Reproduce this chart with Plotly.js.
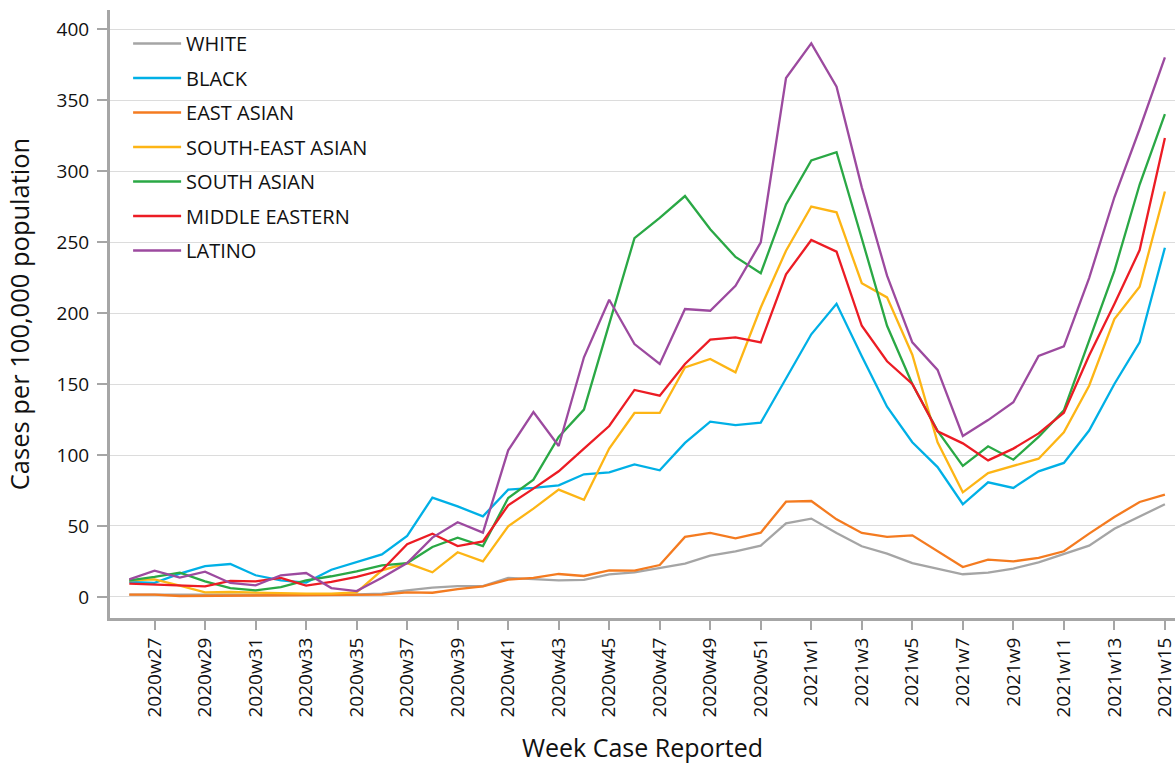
<!DOCTYPE html>
<html>
<head>
<meta charset="utf-8">
<script src="https://cdn.plot.ly/plotly-3.0.1.min.js"></script>
<style>
  html, body { margin: 0; padding: 0; background: #fff; }
  #chart { width: 1175px; height: 764px; }
</style>
</head>
<body>
<div id="chart"></div>
<script>
const weeks = [
  "2020w26","2020w27","2020w28","2020w29","2020w30","2020w31","2020w32","2020w33","2020w34","2020w35",
  "2020w36","2020w37","2020w38","2020w39","2020w40","2020w41","2020w42","2020w43","2020w44","2020w45",
  "2020w46","2020w47","2020w48","2020w49","2020w50","2020w51","2020w52",
  "2021w1","2021w2","2021w3","2021w4","2021w5","2021w6","2021w7","2021w8","2021w9","2021w10",
  "2021w11","2021w12","2021w13","2021w14","2021w15"
];
const tickLabels = ["2020w27","2020w29","2020w31","2020w33","2020w35","2020w37","2020w39","2020w41",
  "2020w43","2020w45","2020w47","2020w49","2020w51","2021w1","2021w3","2021w5","2021w7","2021w9",
  "2021w11","2021w13","2021w15"];
const yTicks = [0, 50, 100, 150, 200, 250, 300, 350, 400];

const white = [1.6,1.6,1.2,1.2,1.2,1.3,1.3,1.2,1.6,1.8,2.3,4.7,6.6,7.7,7.7,13.4,12.4,11.7,12.0,16.0,
  17.4,20.4,23.5,29.1,32.2,36.2,51.9,55.2,45.1,35.7,30.5,23.9,20.0,16.0,17.1,20.0,24.4,30.5,36.2,48.1,56.8,65.3];
const black = [10.6,10.0,16.4,21.8,23.2,15.3,11.7,10.1,19.2,24.6,30.0,43.0,70.0,63.8,56.8,75.6,76.8,78.6,86.4,87.8,
  93.4,89.2,108.5,123.5,121.1,122.8,154,185,206.5,169.5,134,109,91.5,65.3,80.8,76.8,88.5,94.4,117.2,150,179.3,246];
const eastAsian = [1.6,1.6,0.7,0.8,0.8,0.9,0.9,0.8,1.0,1.0,1.6,3.3,3.0,5.6,7.5,12.2,13.4,16.2,14.8,18.8,
  18.5,22.5,42.3,45.1,41.3,45.3,67.1,67.6,54.7,45.1,42.3,43.4,32.4,21.1,26.3,25.1,27.5,32.2,44.6,56.3,66.9,72.1];
const seAsian = [11.7,12.4,8.0,3.3,3.5,3.0,2.8,2.3,2.3,3.3,18.8,23.9,17.4,31.5,25.1,49.8,62.2,75.6,68.5,104.5,
  129.6,129.6,161.7,167.6,158.2,203.9,243.9,275,270.9,221,211,170.6,109,73.7,87.3,92.3,97.4,116,148.8,195.7,218.5,285.6];
const southAsian = [11.7,14.1,17.1,11.0,6.3,4.7,7.0,11.7,14.6,18.1,22.3,23.9,35.2,41.8,35.9,69.7,82.6,112.7,132,192,
  252.7,267,282.4,259,239.5,228,276.5,307.5,313.3,252.5,191,150,117,92.3,106.1,96.7,112.7,131.4,180.5,229.7,290.5,340.1];
const middleEastern = [9.4,8.7,7.7,7.5,11.3,11.0,13.4,8.0,10.6,14.1,18.8,37.1,44.6,35.9,39.2,64.6,76.3,88.5,104.5,120.4,
  145.8,141.8,164.1,181.2,182.8,179.3,227.2,251.4,243.2,191,166,150,116.7,108.2,96.2,104.5,115.2,129.8,170,206.3,244.3,323.2];
const latino = [12.4,18.5,13.6,17.8,9.9,8.2,15.3,16.9,6.3,4.2,13.6,23.9,41.8,52.6,45.3,103.3,130.2,106.3,168.8,209.3,
  178.1,164.1,202.8,201.6,219.1,249.7,365.5,389.9,359.4,288.5,226.3,179.3,159.9,113.4,124.6,137.2,169.7,176.5,224.6,281.5,329.6,380];

const seriesNames = ["WHITE","BLACK","EAST ASIAN","SOUTH-EAST ASIAN","SOUTH ASIAN","MIDDLE EASTERN","LATINO"];
const seriesValues = [white, black, eastAsian, seAsian, southAsian, middleEastern, latino];
const seriesColors = ["#a5a5a5","#00b0e6","#f47b20","#fdb515","#2aa845","#ec1c24","#9c4a9f"];

const traces = seriesNames.map((name, k) => ({
  type: "scatter",
  mode: "lines",
  name: name,
  x: weeks,
  y: seriesValues[k],
  legendgroup: "g" + k,
  line: { color: seriesColors[k], width: 2.3 },
  hoverinfo: "x+y+name"
}));

const font = "'Open Sans', 'Noto Sans', sans-serif";
const axisGray = "#a6a6a6";

const layout = {
  width: 1175,
  height: 764,
  margin: { l: 110, r: 0, t: 10, b: 146 },
  paper_bgcolor: "#ffffff",
  plot_bgcolor: "#ffffff",
  font: { family: font, color: "#111", size: 18 },
  showlegend: true,
  legend: {
    x: 0.017, y: 0.977, xanchor: "left", yanchor: "top",
    bgcolor: "rgba(0,0,0,0)",
    font: { family: font, size: 20, color: "#111" },
    tracegroupgap: 5.5,
    itemwidth: 48
  },
  xaxis: {
    type: "category",
    range: [-0.764, 41.4],
    tickmode: "array",
    tickvals: tickLabels,
    ticktext: tickLabels,
    tickangle: -90,
    ticks: "outside",
    ticklen: 9,
    tickwidth: 2,
    tickcolor: axisGray,
    showline: true,
    linecolor: axisGray,
    linewidth: 3,
    showgrid: false,
    zeroline: false,
    tickfont: { family: font, size: 19, color: "#111" },
    title: { text: "Week Case Reported", font: { family: font, size: 25, color: "#111" }, standoff: 26 }
  },
  yaxis: {
    range: [-14.8, 413.4],
    tickmode: "array",
    tickvals: yTicks,
    ticks: "outside",
    ticklen: 10,
    tickwidth: 2,
    tickcolor: axisGray,
    showline: true,
    linecolor: axisGray,
    linewidth: 3,
    showgrid: true,
    gridcolor: "#dcdcdc",
    gridwidth: 1,
    zeroline: false,
    ticklabelstandoff: 4,
    tickfont: { family: font, size: 19, color: "#111" },
    title: { text: "Cases per 100,000 population", font: { family: font, size: 25.5, color: "#111" }, standoff: 20 }
  }
};

Plotly.newPlot("chart", traces, layout, { displayModeBar: false, responsive: false });
</script>
</body>
</html>
